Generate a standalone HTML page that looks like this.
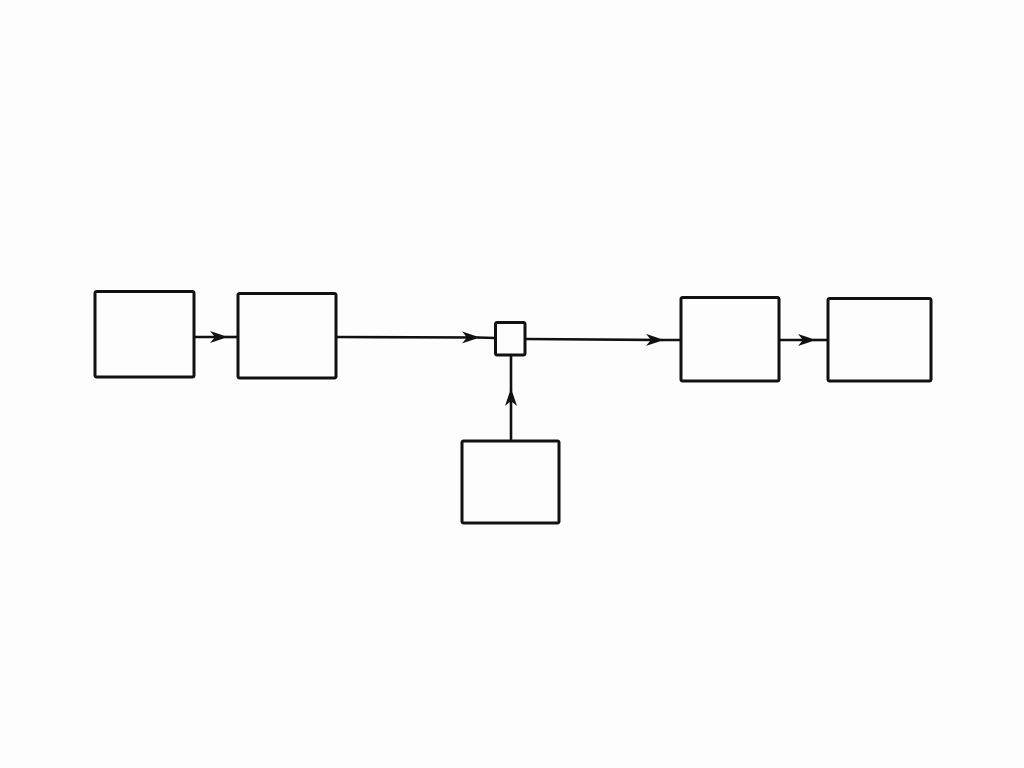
<!DOCTYPE html>
<html><head><meta charset="utf-8"><style>html,body{margin:0;padding:0;background:#fdfdfd;}svg{display:block}</style></head>
<body>
<svg width="1024" height="768" viewBox="0 0 1024 768" xmlns="http://www.w3.org/2000/svg">
<defs>
<marker id="a" viewBox="0 0 18 12" refX="17" refY="6" markerWidth="18" markerHeight="12" markerUnits="userSpaceOnUse" orient="auto">
<path d="M0,0 L18,6 L0,12 L5,6 Z" fill="#111"/>
</marker>
</defs>
<g fill="none" stroke="#111" stroke-width="3" stroke-linejoin="round">
<rect x="95" y="291.5" width="99" height="85.5" rx="1.5"/>
<rect x="238" y="293.5" width="98" height="84.5" rx="1.5"/>
<rect x="495.5" y="322.5" width="29.5" height="32.5" rx="1.5"/>
<rect x="462" y="441" width="97" height="82" rx="1.5"/>
<rect x="681" y="297.5" width="98" height="83.5" rx="1.5"/>
<rect x="828" y="298.5" width="103" height="82.5" rx="1.5"/>
</g>
<g stroke="#111" stroke-width="2.6" fill="none">
<line x1="194" y1="337" x2="227" y2="337" marker-end="url(#a)"/>
<line x1="226" y1="337" x2="238" y2="337"/>
<line x1="336" y1="337" x2="479" y2="337.5" marker-end="url(#a)"/>
<line x1="478" y1="337.5" x2="495" y2="338"/>
<line x1="525" y1="339" x2="663" y2="340" marker-end="url(#a)"/>
<line x1="662" y1="340" x2="681" y2="340"/>
<line x1="779" y1="340" x2="815" y2="340" marker-end="url(#a)"/>
<line x1="814" y1="340" x2="828" y2="340"/>
<line x1="511" y1="441" x2="511" y2="389" marker-end="url(#a)"/>
<line x1="511" y1="390" x2="511" y2="355"/>
</g>
</svg>
</body></html>
